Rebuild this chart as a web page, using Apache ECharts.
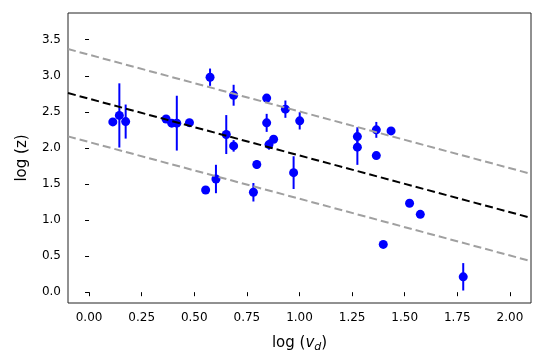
<!DOCTYPE html>
<html>
<head>
<meta charset="utf-8">
<script src="https://cdn.jsdelivr.net/npm/echarts@6/dist/echarts.min.js"></script>
<style>
  html, body { margin: 0; padding: 0; background: #fff; }
  #chart { width: 545px; height: 363px; }
</style>
</head>
<body>
<div id="chart"></div>
<script>
// measured points: log(v_d), log(z), error (0 = no bar)
const logV = [0.113, 0.144, 0.174, 0.366, 0.393, 0.417, 0.477,
  0.575, 0.687, 0.844, 0.933, 1.001, 0.844, 0.652, 0.687, 0.877, 0.855,
  0.797, 0.972, 0.603, 0.554, 0.781,
  1.275, 1.275, 1.365, 1.435, 1.365,
  1.523, 1.574, 1.398, 1.778];
const logZ = [2.36, 2.45, 2.365, 2.40, 2.343, 2.343, 2.35,
  2.98, 2.73, 2.69, 2.537, 2.375, 2.347, 2.185, 2.028, 2.12, 2.046,
  1.77, 1.657, 1.569, 1.417, 1.385,
  2.157, 2.01, 2.25, 2.236, 1.893,
  1.232, 1.079, 0.662, 0.213];
const errZ = [0, 0.445, 0.236, 0, 0, 0.38, 0,
  0.12, 0.145, 0, 0.12, 0.12, 0.125, 0.27, 0.08, 0, 0.07,
  0.06, 0.227, 0.197, 0, 0.128,
  0.13, 0.245, 0.11, 0, 0,
  0, 0, 0, 0.19];

// fitted line and the two bounds, end points
const fitX = [-0.1, 2.1];
const fitY = [2.76, 1.03];
const upperY = [3.37, 1.64];
const lowerY = [2.16, 0.43];

const xTicks = [0, 0.25, 0.5, 0.75, 1, 1.25, 1.5, 1.75, 2];
const yTicks = [0, 0.5, 1, 1.5, 2, 2.5, 3, 3.5];

const points = logV.map((x, i) => [x, logZ[i], errZ[i]]);
const pair = (ys) => fitX.map((x, i) => [x, ys[i]]);

const font = "DejaVu Sans";
const chart = echarts.init(document.getElementById("chart"));
chart.setOption({
  animation: false,
  backgroundColor: "#fff",
  grid: {
    left: 68, right: 14, top: 13, bottom: 60,
    show: true, borderColor: "#222", borderWidth: 1, backgroundColor: "transparent"
  },
  xAxis: {
    type: "value",
    min: -0.1, max: 2.1,
    splitLine: { show: false },
    axisLine: { show: false },
    axisTick: { show: true, inside: false, length: 4, customValues: xTicks, lineStyle: { color: "#000", width: 1 } },
    axisLabel: {
      customValues: xTicks, margin: 9, color: "#000", fontFamily: font, fontSize: 12,
      formatter: (v) => v.toFixed(2)
    },
    name: "{a|log (}{v|v}{d|d}{a|)}",
    nameLocation: "middle",
    nameGap: 30,
    nameTextStyle: {
      rich: {
        a: { fontFamily: font, fontSize: 15, color: "#000", lineHeight: 20 },
        v: { fontFamily: font, fontSize: 15, fontStyle: "italic", color: "#000", lineHeight: 20 },
        d: { fontFamily: font, fontSize: 11, fontStyle: "italic", color: "#000", padding: [8, 0, 0, 0], lineHeight: 20 }
      }
    }
  },
  yAxis: {
    type: "value",
    min: -0.15, max: 3.87,
    splitLine: { show: false },
    axisLine: { show: false },
    axisTick: { show: true, inside: false, length: 4, customValues: yTicks, lineStyle: { color: "#000", width: 1 } },
    axisLabel: {
      customValues: yTicks, margin: 7, color: "#000", fontFamily: font, fontSize: 12,
      formatter: (v) => v.toFixed(1)
    },
    name: "log (z)",
    nameLocation: "middle",
    nameGap: 38,
    nameRotate: 90,
    nameTextStyle: { fontFamily: font, fontSize: 15, color: "#000" }
  },
  series: [
    {
      type: "line", data: pair(upperY), symbol: "none", silent: true,
      lineStyle: { color: "#a0a0a0", width: 2, type: [8, 4] }
    },
    {
      type: "line", data: pair(lowerY), symbol: "none", silent: true,
      lineStyle: { color: "#a0a0a0", width: 2, type: [8, 4] }
    },
    {
      type: "line", data: pair(fitY), symbol: "none", silent: true,
      lineStyle: { color: "#000", width: 2, type: [8, 4] }
    },
    {
      type: "custom",
      data: points,
      renderItem: function (params, api) {
        const e = api.value(2);
        if (!e) return null;
        const x = api.value(0), y = api.value(1);
        const top = api.coord([x, y + e]);
        const bot = api.coord([x, y - e]);
        return {
          type: "line",
          shape: { x1: top[0], y1: top[1], x2: bot[0], y2: bot[1] },
          style: { stroke: "#0000ff", lineWidth: 2 }
        };
      },
      encode: { x: 0, y: 1 }
    },
    {
      type: "scatter",
      data: points,
      symbolSize: 9,
      itemStyle: { color: "#0000ff", opacity: 1 }
    }
  ]
});
</script>
</body>
</html>
